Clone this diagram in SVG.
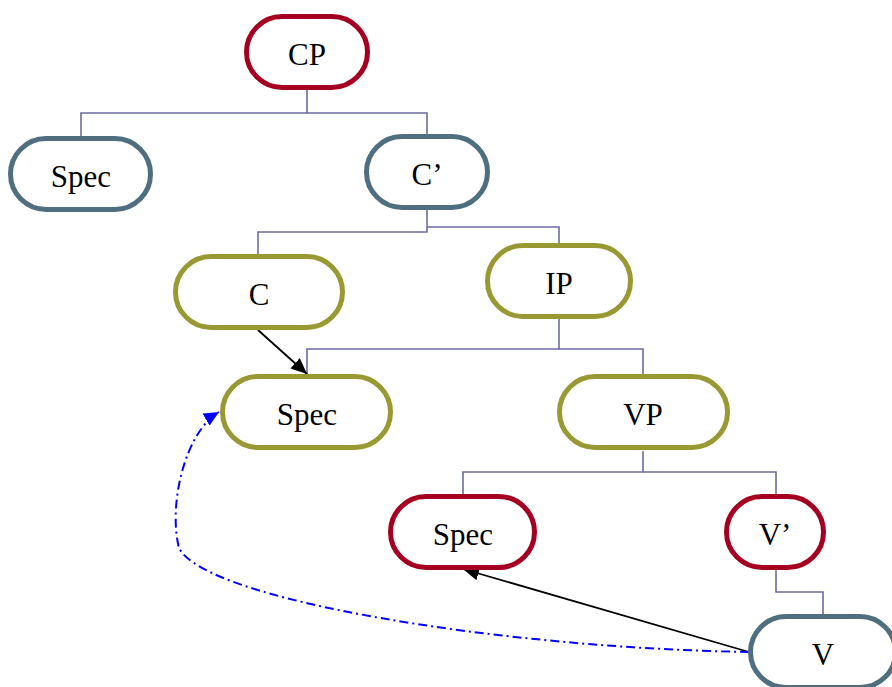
<svg xmlns="http://www.w3.org/2000/svg" width="892" height="687" viewBox="0 0 892 687">
  <style>
    .node rect { fill: #ffffff; stroke-width: 5; }
    .red rect { stroke: #A50021; }
    .slate rect { stroke: #4F6E80; }
    .olive rect { stroke: #999933; }
    .node text { font-family: "Liberation Serif", "Times New Roman", serif; font-size: 31px; fill: #000000; text-anchor: middle; }
    .tree { fill: none; stroke: #6B6BA3; stroke-width: 1.6; }
    .move { fill: none; stroke: #000000; stroke-width: 1.8; }
    .chain { fill: none; stroke: #0000FF; stroke-width: 2; stroke-dasharray: 9 4 2 4; }
  </style>
  <defs>
    <marker id="arrBlack" markerUnits="userSpaceOnUse" markerWidth="16" markerHeight="14" viewBox="0 0 16 14" refX="16" refY="7" orient="auto">
      <path d="M0,0 L16,7 L0,14 z" fill="#000000"/>
    </marker>
    <marker id="arrBlue" markerUnits="userSpaceOnUse" markerWidth="15" markerHeight="14" viewBox="0 0 15 14" refX="15" refY="7" orient="auto">
      <path d="M0,0 L15,7 L0,14 z" fill="#0000FF"/>
    </marker>
  </defs>

  <g id="connectors">
    <polyline class="tree" points="307,90 307,113 81,113 81,137"/>
    <polyline class="tree" points="307,113 427,113 427,135"/>
    <polyline class="tree" points="427,210 427,232 258,232 258,255"/>
    <polyline class="tree" points="427,227 559,227 559,244"/>
    <polyline class="tree" points="559,319 559,349 307,349 307,375"/>
    <polyline class="tree" points="559,349 643,349 643,375"/>
    <polyline class="tree" points="643,451 643,472 463,472 463,495"/>
    <polyline class="tree" points="643,472 776,472 776,495"/>
    <polyline class="tree" points="776,570 776,592 823,592 823,615"/>
    <line class="move" x1="258" y1="330" x2="307" y2="374" marker-end="url(#arrBlack)"/>
    <line class="move" x1="749" y1="652" x2="463" y2="569" marker-end="url(#arrBlack)"/>
    <path class="chain" d="M749,652 C500,648 205,600 179,548 C168,505 185,432 219,412" marker-end="url(#arrBlue)"/>
  </g>

  <g id="node-CP" class="node red">
    <rect x="246.5" y="16.5" width="121" height="71" rx="35.5"/>
    <text x="307" y="65">CP</text>
  </g>
  <g id="node-Spec1" class="node slate">
    <rect x="10.5" y="138.5" width="140" height="71" rx="35.5"/>
    <text x="81" y="187">Spec</text>
  </g>
  <g id="node-Cbar" class="node slate">
    <rect x="366.5" y="136.5" width="121" height="71" rx="35.5"/>
    <text x="427" y="185">C’</text>
  </g>
  <g id="node-C" class="node olive">
    <rect x="175.5" y="256.5" width="167" height="71" rx="35.5"/>
    <text x="259" y="305">C</text>
  </g>
  <g id="node-IP" class="node olive">
    <rect x="487.5" y="245.5" width="143" height="71" rx="35.5"/>
    <text x="559" y="294">IP</text>
  </g>
  <g id="node-Spec2" class="node olive">
    <rect x="222.5" y="376.5" width="168" height="71" rx="35.5"/>
    <text x="307" y="425">Spec</text>
  </g>
  <g id="node-VP" class="node olive">
    <rect x="559.5" y="376.5" width="168" height="71" rx="35.5"/>
    <text x="643" y="425">VP</text>
  </g>
  <g id="node-Spec3" class="node red">
    <rect x="390.5" y="496.5" width="144" height="71" rx="35.5"/>
    <text x="463" y="545">Spec</text>
  </g>
  <g id="node-Vbar" class="node red">
    <rect x="726.5" y="496.5" width="97" height="71" rx="35.5"/>
    <text x="775" y="545">V’</text>
  </g>
  <g id="node-V" class="node slate">
    <rect x="750.5" y="616.5" width="145" height="71" rx="35.5"/>
    <text x="823" y="665">V</text>
  </g>
</svg>
